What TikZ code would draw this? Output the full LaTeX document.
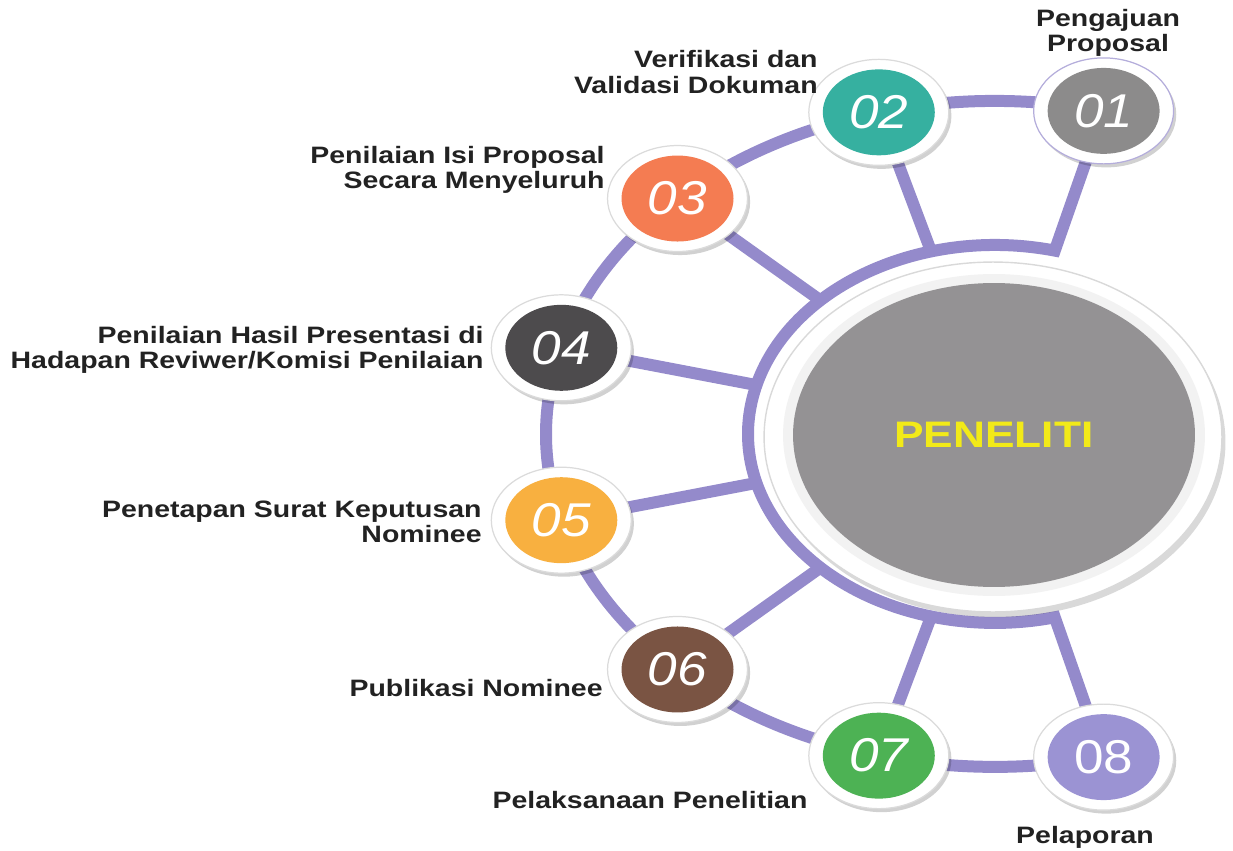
\documentclass[tikz,border=0pt]{standalone}
\usepackage{fontspec}
\setmainfont{Liberation Sans}
\newfontfamily\labfont[FakeStretch=1.2]{Liberation Sans}
\newfontfamily\numfont[FakeStretch=1.12]{Liberation Sans}
\usetikzlibrary{shapes.geometric,shadows,backgrounds}
\definecolor{ringc}{HTML}{948ACB}
\definecolor{labc}{HTML}{222222}
\definecolor{bigc}{HTML}{949294}
\definecolor{yel}{HTML}{F2EA18}
\definecolor{cA}{HTML}{8C8B8B}
\definecolor{cB}{HTML}{36B0A0}
\definecolor{cC}{HTML}{F47C52}
\definecolor{cD}{HTML}{4D4B4D}
\definecolor{cE}{HTML}{F8B040}
\definecolor{cF}{HTML}{7A5443}
\definecolor{cG}{HTML}{4DB254}
\definecolor{cH}{HTML}{9B93D3}
\begin{document}
\begin{tikzpicture}[x=0.02cm,y=0.02cm,
  ringline/.style={draw=ringc,line width=0.24cm},
  disc/.style={ellipse,fill=white,draw=black!14,line width=0.7pt,minimum width=2.8cm,minimum height=2.12cm,inner sep=0pt,
    drop shadow={shadow xshift=1.5pt,shadow yshift=-2pt,opacity=0.18,fill=black}},
  num/.style={ellipse,minimum width=2.24cm,minimum height=1.72cm,inner sep=0pt,text=white,
    font=\numfont\fontsize{27}{27}\selectfont\itshape},
  lab/.style={font=\labfont\bfseries\fontsize{13.5}{14.5}\selectfont,text=labc,inner sep=0pt}
]
\useasboundingbox (0,0) rectangle (1233,850);

% big central disc
\node[ellipse,fill=white,draw=black!15,line width=0.8pt,minimum width=9.16cm,minimum height=7cm,inner sep=0pt,
  drop shadow={shadow xshift=2pt,shadow yshift=-3pt,opacity=0.15,fill=black}] (big) at (993,413) {};
\node[ellipse,fill=black!5,minimum width=8.44cm,minimum height=6.44cm,inner sep=0pt] (rim) at (994,415) {};
\node[ellipse,fill=bigc,minimum width=8.04cm,minimum height=6.08cm,inner sep=0pt,text=yel,
  font=\labfont\bfseries\fontsize{21}{21}\selectfont] (core) at (994,415) {PENELITI};

\begin{scope}[shift={(995,416)}]
  % ring points on the inner ring
  \foreach \a [count=\i] in {76,105,135,165,195,225,255,284}
    \coordinate (r\i) at (\a:247 and 189);
  % numbered discs
  \node[disc,draw=ringc!70] (d1) at (76:449 and 333) {};
  \node[num,fill=cA] (n1) at (d1) {01};
  \node[disc] (d2) at (105:449 and 333) {};
  \node[num,fill=cB] (n2) at (d2) {02};
  \node[disc] (d3) at (135:449 and 333) {};
  \node[num,fill=cC] (n3) at (d3) {03};
  \node[disc] (d4) at (165:449 and 333) {};
  \node[num,fill=cD] (n4) at (d4) {04};
  \node[disc] (d5) at (195:449 and 333) {};
  \node[num,fill=cE] (n5) at (d5) {05};
  \node[disc] (d6) at (225:449 and 333) {};
  \node[num,fill=cF] (n6) at (d6) {06};
  \node[disc] (d7) at (255:449 and 333) {};
  \node[num,fill=cG] (n7) at (d7) {07};
  \node[disc] (d8) at (284:449 and 333) {};
  \node[num,fill=cH,font=\numfont\fontsize{27}{27}\selectfont] (n8) at (d8) {08};
\end{scope}

\begin{pgfonlayer}{background}
  % outer arc through all numbered discs
  \draw[ringline] (d1.center) arc[start angle=76,end angle=284,x radius=8.98cm,y radius=6.66cm];
  % inner ring around the central disc
  \draw[ringline] (d1.center) -- (r1) arc[start angle=76,end angle=284,x radius=4.94cm,y radius=3.78cm] -- (d8.center);
  % spokes
  \foreach \i in {2,...,7}
    \draw[ringline] (d\i.center) -- (r\i);
\end{pgfonlayer}

% labels
\node[lab,align=center] (t1) at (1108,817) {Pengajuan\\Proposal};
\node[lab,align=right,anchor=east] (t2) at (818,778) {Verifikasi dan\\Validasi Dokuman};
\node[lab,align=right,anchor=east] (t3) at (605,680) {Penilaian Isi Proposal\\Secara Menyeluruh};
\node[lab,align=right,anchor=east] (t4) at (484,500) {Penilaian Hasil Presentasi di\\Hadapan Reviwer/Komisi Penilaian};
\node[lab,align=right,anchor=east] (t5) at (482,328) {Penetapan Surat Keputusan\\Nominee};
\node[lab,anchor=east] (t6) at (603,162) {Publikasi Nominee};
\node[lab] (t7) at (650,50) {Pelaksanaan Penelitian};
\node[lab] (t8) at (1085,13) {Pelaporan};
\end{tikzpicture}
\end{document}
